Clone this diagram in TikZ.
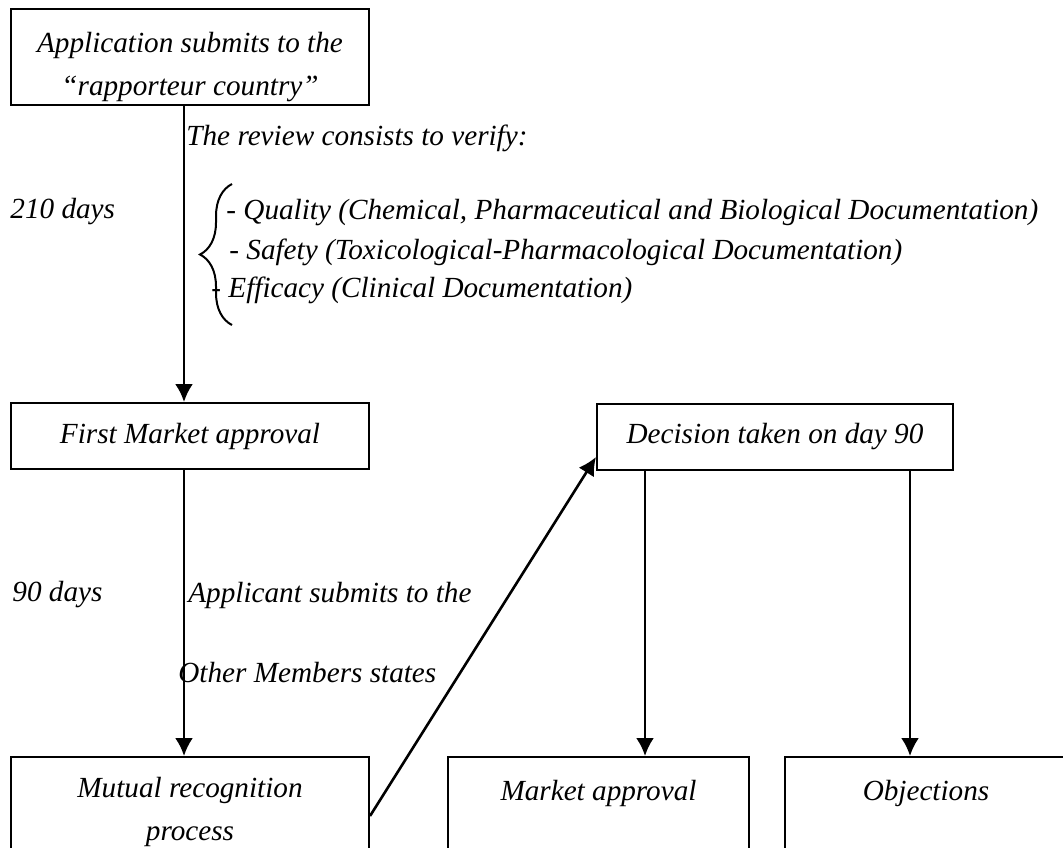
\documentclass[tikz,border=0pt]{standalone}
\usepackage{fontspec}
\setmainfont{Liberation Serif}
\usetikzlibrary{arrows.meta, positioning, decorations.pathreplacing}

\begin{document}
\begin{tikzpicture}[
    x=0.5pt, y=-0.5pt,
    every node/.style={font=\fontsize{14.6}{21.5}\selectfont\itshape},
    box/.style={rectangle, draw=black, line width=1pt, minimum width=179pt, align=center, inner sep=0pt},
    lbl/.style={anchor=west, inner sep=0pt},
    arrow/.style={-{Latex[length=9pt, width=9pt]}, line width=1.3pt},
    curly/.style={decorate, decoration={brace, amplitude=16pt}, line width=1pt}
]
\useasboundingbox (0,0) rectangle (1063,847);
\clip (0,0) rectangle (1063,847);
% boxes
\node[box, anchor=north west, minimum height=48pt,
      label={[align=center, yshift=-5pt]center:Application submits to the\\“rapporteur country”}] (apply) at (10,8) {};
\node[box, anchor=north west, minimum height=33pt] (firstmkt) at (10,402) {First Market approval};
\node[box, anchor=north west, minimum width=178pt, minimum height=33pt] (decision) at (596,403) {Decision taken on day 90};
\node[box, anchor=north west, minimum height=55pt] (mutual) at (10,756) {Mutual recognition\\process};
\node[box, anchor=north west, minimum width=150.5pt, minimum height=55pt] (mktappr) at (447,756) {Market approval\\ \mbox{}};
\node[box, anchor=north west, minimum width=141pt, minimum height=55pt] (objections) at (784,756) {Objections\\ \mbox{}};
% texts beside the arrows
\node[lbl] (review) at (186,138) {The review consists to verify:};
\node[lbl] (d210) at (10,212) {210 days};
\node[lbl] (quality) at (226,213) {- Quality (Chemical, Pharmaceutical and Biological Documentation)};
\node[lbl] (safety) at (229,252) {- Safety (Toxicological-Pharmacological Documentation)};
\node[lbl] (efficacy) at (211,290) {- Efficacy (Clinical Documentation)};
\draw[curly] (232,325) -- (232,184);
\node[lbl] (d90) at (12,595) {90 days};
\node[lbl] (submits) at (188,595) {Applicant submits to the};
\node[lbl] (others) at (178,673) {Other Members states};
% arrows
\draw[arrow] ([xshift=-3pt]apply.south) -- ([xshift=-3pt]firstmkt.north);
\draw[arrow] ([xshift=-3pt]firstmkt.south) -- ([xshift=-3pt]mutual.north);
\draw[arrow] ([yshift=-2pt]mutual.east) -- ([yshift=7pt]decision.south west);
\draw[arrow] ([xshift=24.5pt]decision.south west) -- ([xshift=24.5pt]decision.south west |- mktappr.north);
\draw[arrow] ([xshift=-22pt]decision.south east) -- ([xshift=-22pt]decision.south east |- objections.north);
\end{tikzpicture}
\end{document}
